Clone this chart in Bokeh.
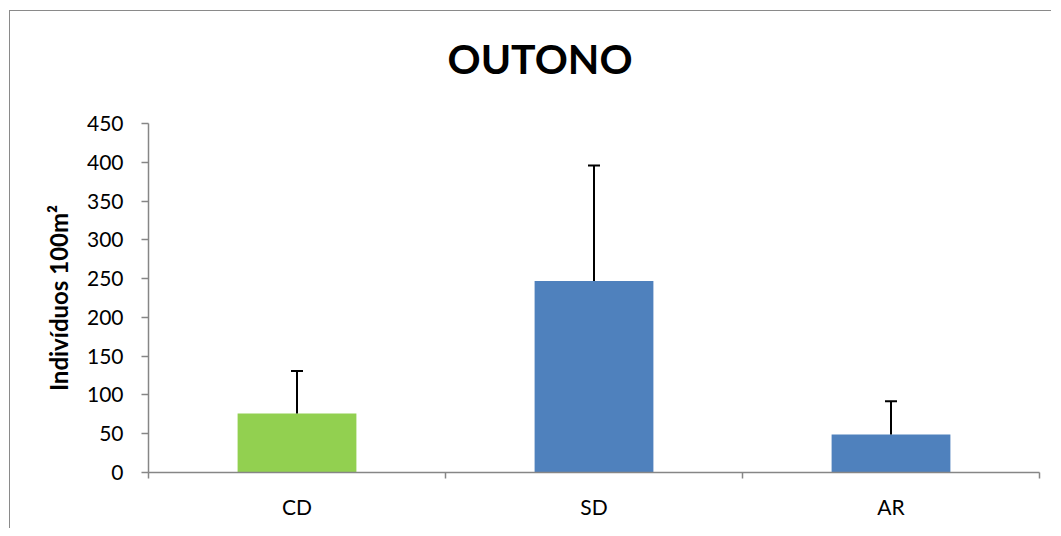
from bokeh.plotting import figure
from bokeh.models import Range1d, FixedTicker, Whisker, TeeHead, ColumnDataSource, Title
from bokeh.embed import file_html
from bokeh.resources import INLINE

categories = ["CD", "SD", "AR"]
means = [76, 247, 49]
errors = [55, 149, 43]
bar_colors = ["#92D050", "#4F81BD", "#4F81BD"]
y_ticks = [0, 50, 100, 150, 200, 250, 300, 350, 400, 450]
title_text = "OUTONO"
y_label = "Indivíduos 100m²"

xpos = [i + 0.5 for i in range(len(categories))]
upper = [m + e for m, e in zip(means, errors)]
src = ColumnDataSource(dict(x=xpos, top=means, upper=upper, color=bar_colors))

p = figure(output_backend="svg", toolbar_location=None, title=None,
           frame_width=891, frame_height=349,
           x_range=Range1d(0, len(categories)), y_range=Range1d(0, 450))
p.min_border_left = 138
p.min_border_right = 12
p.min_border_top = 112
p.min_border_bottom = 56
p.outline_line_color = None
p.xgrid.visible = False
p.ygrid.visible = False
p.background_fill_color = "white"
p.border_fill_color = "white"
p.styles = {"border-left": "1px solid #8a8a8a", "border-top": "1px solid #8a8a8a",
            "margin-left": "9px", "margin-top": "10px"}

p.vbar(x="x", top="top", width=0.4, bottom=0, color="color", line_color=None, source=src)
w = Whisker(base="x", lower="top", upper="upper", source=src,
            line_color="black", line_width=2,
            upper_head=TeeHead(size=12, line_color="black", line_width=2),
            lower_head=None, level="overlay")
p.add_layout(w)

# spacer between the title and the frame, then the title itself
spacer = Title(text=" ", text_font="Lato", text_font_size="20px", standoff=10)
p.add_layout(spacer, "above")
main_title = Title(text=title_text, text_font="Lato", text_font_size="41px",
                   text_font_style="bold", text_color="black",
                   align="left", offset=299, standoff=10)
p.add_layout(main_title, "above")

axis_gray = "#868686"
# x axis
xa = p.xaxis[0]
xa.ticker = FixedTicker(ticks=xpos, minor_ticks=list(range(len(categories) + 1)))
xa.major_label_overrides = {x: c for x, c in zip(xpos, categories)}
xa.axis_line_color = axis_gray
xa.axis_line_width = 1.5
xa.major_tick_out = 0
xa.major_tick_in = 0
xa.minor_tick_out = 6
xa.minor_tick_in = 0
xa.minor_tick_line_color = axis_gray
xa.minor_tick_line_width = 1.5
xa.major_label_text_font = "Lato"
xa.major_label_text_font_size = "21px"
xa.major_label_text_color = "black"
xa.major_label_standoff = 15

# y axis
ya = p.yaxis[0]
ya.ticker = FixedTicker(ticks=y_ticks)
ya.axis_line_color = axis_gray
ya.axis_line_width = 1.5
ya.major_tick_line_color = axis_gray
ya.major_tick_line_width = 1.5
ya.major_tick_out = 7
ya.major_tick_in = 0
ya.minor_tick_out = 0
ya.minor_tick_in = 0
ya.major_label_text_font = "Lato"
ya.major_label_text_font_size = "21px"
ya.major_label_text_color = "black"
ya.major_label_standoff = 18
ya.axis_label = y_label
ya.axis_label_text_font = "Lato"
ya.axis_label_text_font_size = "24px"
ya.axis_label_text_font_style = "bold"
ya.axis_label_text_color = "black"
ya.axis_label_standoff = 11

open("out.html", "w").write(file_html(p, INLINE))
